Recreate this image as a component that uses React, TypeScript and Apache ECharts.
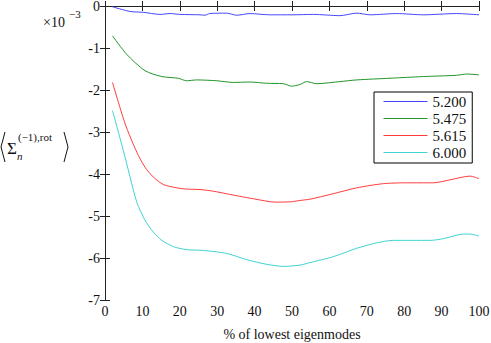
import React, { useEffect, useRef } from "react";
import * as echarts from "echarts";

const seriesNames = ["5.200", "5.475", "5.615", "6.000"];
const seriesColors = ["#4646ff", "#22962a", "#ff3c3c", "#3fd3d3"];

const xBlue = [2, 6.7, 10.2, 14.7, 17.4, 20.1, 25.4, 26.7, 28, 32.5, 35.2, 38.8, 44, 50, 55.7, 62.8, 67.3, 70.9, 78, 85.1, 94, 100];
const yBlue = [-0.02, -0.13, -0.15, -0.2, -0.18, -0.2, -0.21, -0.22, -0.18, -0.17, -0.22, -0.18, -0.21, -0.21, -0.2, -0.23, -0.17, -0.21, -0.18, -0.21, -0.18, -0.21];

const xGreen = [2, 5.8, 10.7, 15.2, 19.6, 21.8, 24.5, 29.9, 34.3, 38.8, 43.2, 47.7, 49.9, 52.1, 53.9, 56.6, 62.8, 67.3, 76.2, 85.1, 94, 96.7, 100];
const yGreen = [-0.71, -1.15, -1.54, -1.68, -1.72, -1.78, -1.76, -1.78, -1.82, -1.81, -1.84, -1.85, -1.91, -1.87, -1.8, -1.85, -1.8, -1.76, -1.72, -1.68, -1.65, -1.62, -1.64];

const xRed = [2, 5.4, 8.5, 10.7, 12.9, 15.6, 19.2, 22, 25.4, 29, 32.5, 36, 39.7, 45.5, 49.9, 52.1, 54.8, 61, 67.3, 74.4, 80.7, 87.8, 92.2, 97.6, 100];
const yRed = [-1.82, -2.81, -3.48, -3.84, -4.07, -4.25, -4.33, -4.36, -4.37, -4.41, -4.47, -4.53, -4.59, -4.67, -4.66, -4.63, -4.6, -4.47, -4.33, -4.23, -4.21, -4.21, -4.14, -4.05, -4.11];

const xCyan = [2, 4.9, 8.5, 10.7, 12.9, 15.2, 18.3, 21.8, 26.3, 32.5, 37.9, 43.2, 47.7, 52.1, 54.8, 61, 67.3, 72.6, 77.1, 86.9, 90.5, 95.8, 97.6, 100];
const yCyan = [-2.49, -3.44, -4.67, -5.1, -5.38, -5.58, -5.73, -5.8, -5.82, -5.89, -6.04, -6.15, -6.2, -6.17, -6.11, -5.97, -5.77, -5.64, -5.58, -5.58, -5.54, -5.43, -5.43, -5.48];

const xTitle = "% of lowest eigenmodes";

const FONT = "Liberation Serif";

function pairs(xs: number[], ys: number[]) {
  return xs.map((x, i) => [x, ys[i]]);
}

export default function App() {
  const ref = useRef<HTMLDivElement>(null);
  useEffect(() => {
    if (!ref.current) return;
    const chart = echarts.init(ref.current, undefined, { renderer: "svg" });
    const data = [pairs(xBlue, yBlue), pairs(xGreen, yGreen), pairs(xRed, yRed), pairs(xCyan, yCyan)];
    const axisLine = { show: true, lineStyle: { color: "#222", width: 1 } };
    const tick = { show: true, inside: true, length: 5, lineStyle: { color: "#222" } };
    const label = { fontFamily: FONT, fontSize: 14, color: "#111" };
    chart.setOption({
      animation: false,
      backgroundColor: "#fff",
      textStyle: { fontFamily: FONT },
      grid: { left: 105, right: 12, top: 6, bottom: 43, containLabel: false, outerBoundsMode: "none" },
      xAxis: [
        {
          type: "value", min: 0, max: 100, interval: 10, position: "bottom",
          axisLine, axisTick: tick, splitLine: { show: false },
          axisLabel: { ...label, margin: 4 },
          name: xTitle, nameLocation: "middle", nameGap: 27,
          nameTextStyle: { fontFamily: FONT, fontSize: 14, color: "#111" },
        },
        {
          type: "value", min: 0, max: 100, interval: 10, position: "top",
          axisLine, axisTick: tick, splitLine: { show: false }, axisLabel: { show: false },
        },
      ],
      yAxis: [
        {
          type: "value", min: -7, max: 0, interval: 1, position: "left",
          axisLine, axisTick: tick, splitLine: { show: false },
          axisLabel: { ...label, margin: 5, formatter: (v: number) => String(v) },
        },
        {
          type: "value", min: -7, max: 0, interval: 1, position: "right",
          axisLine, axisTick: tick, splitLine: { show: false }, axisLabel: { show: false },
        },
      ],
      legend: {
        left: 374, top: 92, orient: "vertical",
        itemWidth: 44, itemHeight: 14, itemGap: 2,
        padding: [2, 6, 3, 9],
        borderColor: "#000", borderWidth: 1, backgroundColor: "#fff",
        textStyle: { fontFamily: FONT, fontSize: 15, color: "#111" },
        itemStyle: { color: "transparent", borderWidth: 0, opacity: 0 },
        data: seriesNames.map((name, i) => ({
          name,
          lineStyle: { color: seriesColors[i], width: 1 },
        })),
      },
      series: seriesNames.map((name, i) => ({
        name, type: "line", data: data[i], symbol: "none", smooth: 0.25,
        xAxisIndex: 0, yAxisIndex: 0,
        lineStyle: { color: seriesColors[i], width: 1 },
        itemStyle: { color: seriesColors[i] },
      })),
      graphic: [
        { type: "text", left: 43, top: 15, style: { text: "×10", fontFamily: FONT, fontSize: 14, fill: "#111" } },
        { type: "text", left: 69, top: 8, style: { text: "−3", fontFamily: FONT, fontSize: 11, fill: "#111" } },
        { type: "polyline", shape: { points: [[5, 132], [1, 147], [5, 162]] }, style: { stroke: "#111", lineWidth: 1, fill: "none" } },
        { type: "polyline", shape: { points: [[64, 132], [68, 147], [64, 162]] }, style: { stroke: "#111", lineWidth: 1, fill: "none" } },
        { type: "text", left: 7, top: 140, style: { text: "Σ", fontFamily: FONT, fontSize: 17, fill: "#111" } },
        { type: "text", left: 17, top: 150, style: { text: "n", fontFamily: FONT, fontSize: 11, fontStyle: "italic", fill: "#111" } },
        { type: "text", left: 18, top: 131, style: { text: "(−1),rot", fontFamily: FONT, fontSize: 11, fill: "#111" } },
      ],
    });
    return () => chart.dispose();
  }, []);
  return <div ref={ref} style={{ width: 491, height: 343, position: "absolute", left: 0, top: 0 }} />;
}
